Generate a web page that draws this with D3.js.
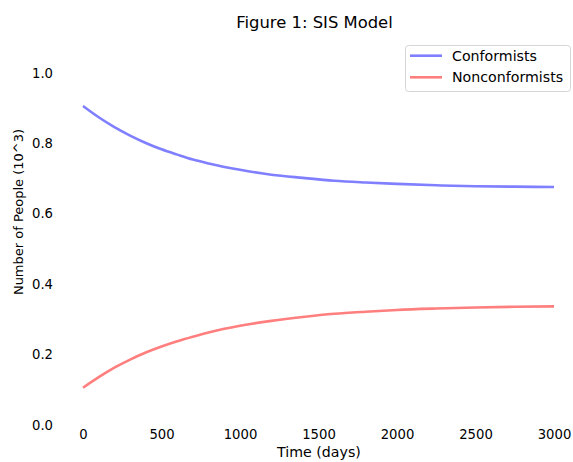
<!DOCTYPE html>
<html>
<head>
<meta charset="utf-8">
<script src="https://cdn.jsdelivr.net/npm/d3@7"></script>
<style>
  body { margin: 0; background: #fff; }
  text { font-family: "DejaVu Sans", sans-serif; fill: #000; }
</style>
</head>
<body>
<script>
// values
var days = [0, 100, 200, 300, 400, 500, 600, 700, 800, 1000, 1200, 1400, 1600, 1800, 2000, 2250, 2500, 2750, 3000];
var conformists = [0.900, 0.868, 0.840, 0.816, 0.795, 0.777, 0.762, 0.748, 0.737, 0.719, 0.705, 0.696, 0.688, 0.683, 0.679, 0.675, 0.672, 0.671, 0.670];
var nonconformists = [0.100, 0.130, 0.157, 0.180, 0.200, 0.217, 0.232, 0.245, 0.257, 0.276, 0.290, 0.301, 0.310, 0.316, 0.321, 0.325, 0.328, 0.330, 0.331];
var xTicks = [0, 500, 1000, 1500, 2000, 2500, 3000];
var yTicks = [0.0, 0.2, 0.4, 0.6, 0.8, 1.0];

var series = [
  {name: 'Conformists', values: conformists, color: '#7f7fff'},
  {name: 'Nonconformists', values: nonconformists, color: '#ff7f7f'}
];

var w = 573, h = 462;

var svg = d3.select('body').append('svg')
    .attr('width', w)
    .attr('height', h);

var xScale = d3.scaleLinear().domain([0, 3000]).range([83, 554]);
var yScale = d3.scaleLinear().domain([0, 1]).range([423, 70.8]);

// axes without spines or tick marks
var xAxis = d3.axisBottom(xScale).tickValues(xTicks).tickSize(0).tickPadding(0).tickFormat(d3.format('d'));
var yAxis = d3.axisLeft(yScale).tickValues(yTicks).tickSize(0).tickPadding(0).tickFormat(d3.format('.1f'));

var gx = svg.append('g')
    .attr('transform', 'translate(0,439)')
    .call(xAxis);
gx.select('.domain').remove();
gx.selectAll('text')
    .attr('y', 0)
    .attr('dy', 0)
    .style('font-size', '13.2px')
    .style('font-family', '"DejaVu Sans", sans-serif');

var gy = svg.append('g')
    .attr('transform', 'translate(53,2)')
    .call(yAxis);
gy.select('.domain').remove();
gy.selectAll('text')
    .attr('x', 0)
    .style('font-size', '13.2px')
    .style('font-family', '"DejaVu Sans", sans-serif');

// lines
var line = d3.line()
    .x(function(d, i) { return xScale(days[i]); })
    .y(function(d) { return yScale(d); })
    .curve(d3.curveMonotoneX);

series.forEach(function(s) {
  svg.append('path')
      .datum(s.values)
      .attr('fill', 'none')
      .attr('stroke', s.color)
      .attr('stroke-width', 2.6)
      .attr('d', line);
});

// title and axis labels
svg.append('text')
    .attr('x', 314.5)
    .attr('y', 27.5)
    .attr('text-anchor', 'middle')
    .style('font-size', '16.4px')
    .text('Figure 1: SIS Model');

svg.append('text')
    .attr('x', 319)
    .attr('y', 457)
    .attr('text-anchor', 'middle')
    .style('font-size', '14.2px')
    .text('Time (days)');

svg.append('text')
    .attr('transform', 'translate(22.5,212) rotate(-90)')
    .attr('text-anchor', 'middle')
    .style('font-size', '13px')
    .text('Number of People (10^3)');

// legend
var legend = svg.append('g');
legend.append('rect')
    .attr('x', 405.5)
    .attr('y', 45.5)
    .attr('width', 165)
    .attr('height', 46)
    .attr('rx', 3)
    .attr('fill', '#fff')
    .attr('fill-opacity', 0.8)
    .attr('stroke', '#d6d6d6');

series.forEach(function(s, i) {
  var yy = 55.7 + i * 21.6;
  legend.append('line')
      .attr('x1', 410).attr('x2', 442)
      .attr('y1', yy).attr('y2', yy)
      .attr('stroke', s.color)
      .attr('stroke-width', 2.6);
  legend.append('text')
      .attr('x', 452)
      .attr('y', yy)
      .attr('dy', '0.36em')
      .style('font-size', '14.2px')
      .text(s.name);
});
</script>
</body>
</html>
